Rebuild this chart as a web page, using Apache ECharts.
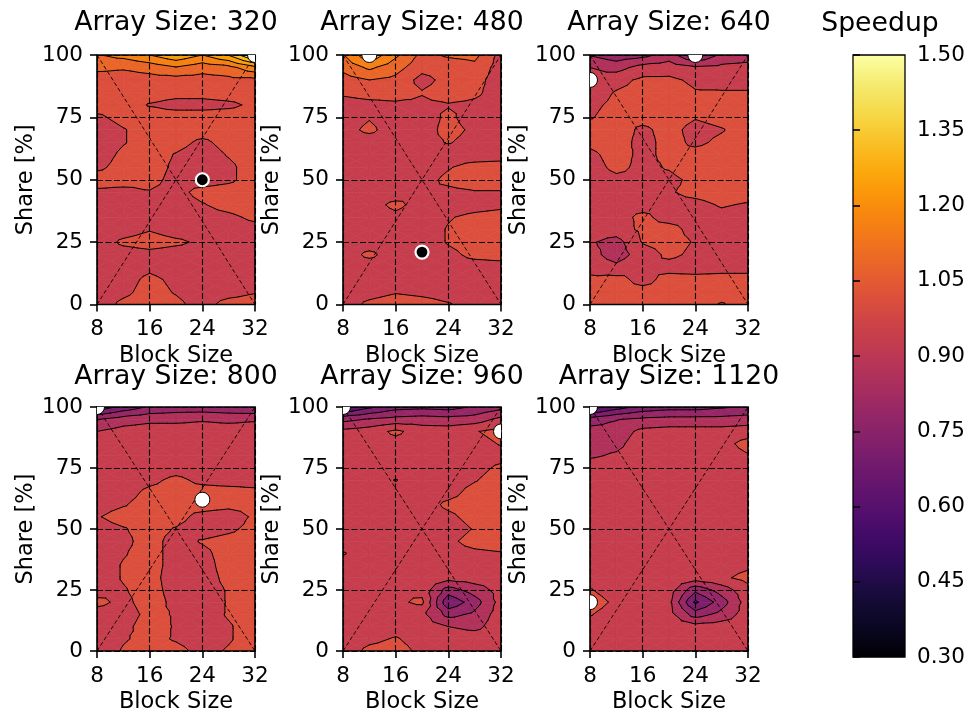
<!DOCTYPE html>
<html>
<head>
<meta charset="utf-8">
<script src="https://cdn.jsdelivr.net/npm/echarts@6/dist/echarts.min.js"></script>
<style>
html,body{margin:0;padding:0;background:#ffffff;}
#chart{width:974px;height:715px;}
</style>
</head>
<body>
<div id="chart"></div>
<script>
// ================= DATA =================
const blockSizes = [8, 12, 16, 20, 24, 28, 32];
// rows of every speedup table go from Share = 100 (first row) down to Share = 0 (last row)
const shares = [100, 95, 90, 85, 80, 75, 70, 65, 60, 55, 50, 45, 40, 35, 30, 25, 20, 15, 10, 5, 0];
const arraySizes = [320, 480, 640, 800, 960, 1120];

const speedup320 = [
  [1.12, 1.15, 1.20, 1.26, 1.20, 1.28, 1.45],
  [1.07, 1.06, 1.08, 1.12, 1.08, 1.10, 1.18],
  [1.01, 1.01, 1.02, 1.02, 1.02, 1.03, 1.03],
  [1.01, 1.01, 1.01, 1.00, 1.00, 1.01, 1.01],
  [1.01, 1.01, 0.97, 0.95, 0.95, 0.96, 0.99],
  [0.96, 1.00, 1.01, 1.01, 1.01, 1.01, 1.01],
  [0.93, 0.97, 1.01, 1.01, 1.01, 1.01, 1.01],
  [0.93, 0.97, 1.01, 1.00, 0.96, 1.00, 1.01],
  [0.94, 0.99, 1.01, 0.97, 0.94, 0.98, 1.01],
  [0.96, 1.00, 1.01, 0.96, 0.94, 0.96, 1.01],
  [1.01, 1.01, 1.00, 0.95, 0.94, 0.96, 1.01],
  [0.96, 0.95, 0.97, 0.95, 1.00, 1.01, 1.02],
  [0.94, 0.94, 0.94, 0.94, 0.97, 1.00, 1.02],
  [0.93, 0.94, 0.94, 0.94, 0.95, 0.96, 0.99],
  [0.93, 0.94, 0.97, 0.94, 0.94, 0.94, 0.95],
  [0.93, 0.99, 1.01, 0.99, 0.96, 0.94, 0.94],
  [0.93, 0.94, 0.95, 0.94, 0.94, 0.94, 0.94],
  [0.93, 0.94, 0.96, 0.94, 0.93, 0.93, 0.93],
  [0.93, 0.95, 0.99, 0.96, 0.93, 0.93, 0.93],
  [0.94, 0.96, 1.00, 0.97, 0.94, 0.95, 0.97],
  [0.94, 0.99, 1.01, 0.99, 0.95, 1.00, 1.01]
];
const speedup480 = [
  [1.12, 1.26, 1.14, 1.03, 1.06, 1.07, 0.95],
  [1.07, 1.14, 1.08, 1.00, 1.01, 1.03, 0.94],
  [1.02, 1.05, 1.03, 0.95, 1.00, 1.00, 0.94],
  [0.99, 1.01, 1.01, 0.98, 1.01, 0.99, 0.94],
  [0.94, 0.95, 0.96, 0.96, 0.97, 0.96, 0.94],
  [0.94, 0.97, 0.94, 0.94, 0.99, 0.94, 0.94],
  [0.95, 0.99, 0.94, 0.94, 1.00, 0.96, 0.94],
  [0.94, 0.94, 0.94, 0.95, 0.98, 0.95, 0.94],
  [0.94, 0.94, 0.94, 0.94, 0.94, 0.94, 0.94],
  [0.94, 0.94, 0.94, 0.94, 0.97, 1.00, 1.01],
  [0.94, 0.94, 0.94, 0.95, 0.99, 1.01, 1.01],
  [0.94, 0.94, 0.94, 0.97, 0.96, 0.97, 0.97],
  [0.94, 0.95, 0.99, 0.95, 0.94, 0.95, 0.96],
  [0.94, 0.94, 0.96, 0.94, 0.97, 0.99, 1.00],
  [0.94, 0.94, 0.94, 0.94, 0.98, 1.00, 1.01],
  [0.94, 0.94, 0.94, 0.94, 0.98, 1.00, 1.01],
  [0.94, 0.99, 0.94, 0.93, 0.96, 0.99, 1.00],
  [0.94, 0.94, 0.94, 0.94, 0.95, 0.95, 0.95],
  [0.94, 0.94, 0.94, 0.94, 0.94, 0.94, 0.94],
  [0.94, 0.95, 0.97, 0.96, 0.95, 0.94, 0.94],
  [0.94, 0.99, 1.01, 1.00, 0.98, 0.95, 0.97]
];
const speedup640 = [
  [0.82, 0.78, 0.80, 0.86, 0.74, 0.84, 0.86],
  [0.90, 0.87, 0.93, 0.94, 0.91, 0.92, 0.93],
  [0.92, 0.95, 0.99, 0.99, 0.96, 0.95, 0.95],
  [0.94, 0.98, 1.00, 1.01, 0.98, 0.98, 0.98],
  [0.96, 0.99, 1.00, 1.01, 1.00, 1.00, 1.00],
  [0.97, 1.00, 1.00, 1.01, 0.98, 1.00, 1.01],
  [1.00, 1.01, 0.96, 1.00, 0.95, 0.97, 1.01],
  [0.99, 1.01, 0.95, 1.00, 0.96, 0.99, 1.01],
  [0.96, 1.00, 0.96, 0.99, 1.00, 1.01, 1.01],
  [0.95, 0.99, 0.96, 0.98, 1.01, 1.01, 1.01],
  [0.94, 0.96, 0.96, 0.96, 0.99, 1.00, 1.01],
  [0.95, 0.96, 0.95, 0.97, 0.99, 1.00, 1.00],
  [0.97, 0.95, 0.95, 0.96, 0.96, 0.98, 0.97],
  [0.96, 0.95, 0.99, 0.95, 0.95, 0.96, 0.95],
  [0.94, 0.94, 0.99, 1.00, 0.95, 0.94, 0.96],
  [0.91, 0.87, 0.98, 1.00, 0.97, 0.94, 0.94],
  [0.93, 0.86, 0.94, 0.99, 0.96, 0.94, 0.95],
  [0.95, 0.92, 0.97, 0.95, 0.94, 0.95, 0.96],
  [0.99, 1.00, 0.95, 1.00, 1.00, 1.00, 0.99],
  [1.00, 1.00, 1.00, 1.00, 1.01, 1.00, 1.00],
  [1.00, 1.01, 1.00, 0.99, 1.00, 0.97, 1.00]
];
const speedup800 = [
  [0.62, 0.70, 0.76, 0.78, 0.78, 0.77, 0.75],
  [0.82, 0.86, 0.88, 0.88, 0.89, 0.88, 0.89],
  [0.90, 0.93, 0.94, 0.94, 0.94, 0.94, 0.94],
  [0.94, 0.94, 0.94, 0.94, 0.94, 0.94, 0.94],
  [0.94, 0.94, 0.94, 0.94, 0.94, 0.94, 0.94],
  [0.94, 0.94, 0.94, 0.95, 0.94, 0.94, 0.94],
  [0.94, 0.94, 0.96, 0.99, 0.96, 0.95, 0.95],
  [0.94, 0.95, 0.99, 1.00, 1.00, 1.00, 0.99],
  [0.95, 0.97, 1.00, 1.00, 1.01, 1.00, 1.00],
  [0.97, 1.00, 1.00, 1.00, 0.95, 0.93, 0.99],
  [0.95, 0.97, 1.00, 0.97, 0.94, 0.96, 1.00],
  [0.94, 0.96, 1.00, 0.95, 0.98, 1.00, 1.01],
  [0.94, 0.97, 1.00, 0.95, 0.96, 1.00, 1.01],
  [0.94, 0.98, 1.00, 0.95, 0.95, 1.00, 1.01],
  [0.94, 0.98, 1.00, 0.94, 0.95, 0.99, 1.01],
  [0.95, 0.97, 1.00, 0.95, 0.95, 0.98, 1.01],
  [0.99, 0.96, 1.00, 0.96, 0.94, 0.98, 1.00],
  [0.95, 0.95, 0.99, 0.97, 0.95, 0.98, 1.00],
  [0.94, 0.96, 1.00, 0.97, 0.95, 0.97, 1.00],
  [0.94, 0.97, 0.99, 0.97, 0.95, 0.97, 1.00],
  [0.94, 0.98, 1.00, 0.99, 0.96, 0.98, 1.00]
];
const speedup960 = [
  [0.58, 0.66, 0.72, 0.73, 0.72, 0.76, 0.80],
  [0.80, 0.83, 0.85, 0.86, 0.85, 0.86, 0.92],
  [0.92, 0.94, 0.99, 0.94, 0.94, 0.97, 1.00],
  [0.94, 0.94, 0.95, 0.94, 0.94, 0.95, 0.98],
  [0.94, 0.94, 0.94, 0.94, 0.94, 0.94, 0.95],
  [0.94, 0.94, 0.94, 0.94, 0.94, 0.95, 0.99],
  [0.94, 0.94, 0.978, 0.94, 0.94, 0.97, 1.01],
  [0.94, 0.94, 0.94, 0.94, 0.95, 1.00, 1.01],
  [0.94, 0.94, 0.94, 0.94, 0.99, 1.01, 1.01],
  [0.94, 0.94, 0.94, 0.94, 0.96, 1.00, 1.01],
  [0.94, 0.94, 0.94, 0.94, 0.94, 0.98, 1.01],
  [0.94, 0.94, 0.94, 0.94, 0.96, 1.00, 1.01],
  [0.98, 0.94, 0.94, 0.94, 0.95, 0.96, 0.97],
  [0.94, 0.94, 0.94, 0.94, 0.94, 0.94, 0.94],
  [0.94, 0.94, 0.94, 0.94, 0.93, 0.94, 0.94],
  [0.94, 0.94, 0.97, 0.95, 0.79, 0.86, 0.93],
  [0.94, 0.94, 0.96, 0.99, 0.69, 0.79, 0.93],
  [0.94, 0.94, 0.94, 0.92, 0.80, 0.84, 0.94],
  [0.94, 0.94, 0.95, 0.94, 0.90, 0.88, 0.94],
  [0.94, 0.96, 0.98, 0.95, 0.94, 0.94, 0.94],
  [0.94, 0.99, 1.00, 0.96, 0.94, 0.94, 0.94]
];
const speedup1120 = [
  [0.56, 0.64, 0.70, 0.72, 0.72, 0.74, 0.76],
  [0.78, 0.82, 0.84, 0.85, 0.85, 0.85, 0.86],
  [0.86, 0.86, 0.92, 0.93, 0.93, 0.93, 0.94],
  [0.87, 0.88, 0.94, 0.94, 0.94, 0.95, 1.00],
  [0.89, 0.91, 0.94, 0.94, 0.94, 0.94, 0.97],
  [0.94, 0.94, 0.94, 0.94, 0.94, 0.94, 0.94],
  [0.94, 0.94, 0.94, 0.94, 0.94, 0.94, 0.94],
  [0.94, 0.94, 0.94, 0.94, 0.94, 0.94, 0.94],
  [0.94, 0.94, 0.94, 0.94, 0.94, 0.94, 0.94],
  [0.94, 0.94, 0.94, 0.94, 0.94, 0.94, 0.94],
  [0.94, 0.94, 0.94, 0.94, 0.94, 0.94, 0.94],
  [0.94, 0.94, 0.94, 0.94, 0.94, 0.94, 0.94],
  [0.94, 0.94, 0.94, 0.94, 0.94, 0.94, 0.94],
  [0.94, 0.94, 0.94, 0.94, 0.94, 0.94, 0.96],
  [0.94, 0.94, 0.94, 0.94, 0.94, 0.96, 1.00],
  [0.98, 0.94, 0.94, 0.94, 0.77, 0.86, 0.95],
  [1.01, 0.96, 0.94, 0.92, 0.66, 0.79, 0.94],
  [0.98, 0.94, 0.94, 0.93, 0.79, 0.85, 0.94],
  [0.94, 0.94, 0.94, 0.94, 0.93, 0.94, 0.94],
  [0.94, 0.94, 0.94, 0.94, 0.94, 0.94, 0.94],
  [0.94, 0.94, 0.94, 0.94, 0.94, 0.94, 0.94]
];
const speedupTables = [speedup320, speedup480, speedup640, speedup800, speedup960, speedup1120];

// white markers (white fill, black edge) and dark markers (black fill, white edge)
const whiteMarkers320 = [[32, 100]];
const darkMarkers320 = [[24, 50]];
const whiteMarkers480 = [[12, 100]];
const darkMarkers480 = [[20, 21]];
const whiteMarkers640 = [[8, 90], [24, 100]];
const darkMarkers640 = [];
const whiteMarkers800 = [[8, 100], [24, 62]];
const darkMarkers800 = [];
const whiteMarkers960 = [[8, 100], [32, 90]];
const darkMarkers960 = [];
const whiteMarkers1120 = [[8, 100], [8, 20]];
const darkMarkers1120 = [];
const whiteMarkerSets = [whiteMarkers320, whiteMarkers480, whiteMarkers640, whiteMarkers800, whiteMarkers960, whiteMarkers1120];
const darkMarkerSets = [darkMarkers320, darkMarkers480, darkMarkers640, darkMarkers800, darkMarkers960, darkMarkers1120];

const diagonalUp = [[8, 0], [32, 100]];
const diagonalDown = [[8, 100], [32, 0]];

const contourLevels = [0.3, 0.375, 0.45, 0.525, 0.6, 0.675, 0.75, 0.825, 0.9, 0.975, 1.05, 1.125, 1.2, 1.275, 1.35, 1.425, 1.5];
const colorRange = [0.3, 1.5];

// ================= RENDERING =================
const FONT = 'DejaVu Sans';
const infernoStops = ['#000004','#0a0722','#160b39','#2c0b56','#420a68','#57106e','#6a176e','#801f6c','#932667','#a92e5e',
  '#bc3754','#cc4248','#dd513a','#e9642a','#f37819','#f98d0b','#fca50a','#f9be24','#f6d746','#f4ea6e','#fcffa4'];
const infernoRgb = infernoStops.map(h => [parseInt(h.slice(1,3),16), parseInt(h.slice(3,5),16), parseInt(h.slice(5,7),16)]);
function inferno(t) {
  t = Math.max(0, Math.min(1, t));
  const n = infernoRgb.length - 1;
  const f = t * n;
  const i = Math.min(n - 1, Math.floor(f));
  const u = f - i;
  const a = infernoRgb[i], b = infernoRgb[i + 1];
  return 'rgb(' + [0,1,2].map(j => Math.round(a[j] + (b[j] - a[j]) * u)).join(',') + ')';
}
const bandColors = contourLevels.slice(0, -1).map((l, k) =>
  inferno(((l + contourLevels[k + 1]) / 2 - colorRange[0]) / (colorRange[1] - colorRange[0])));

function clipPoly(poly, lv, keepAbove) {
  const out = [];
  for (let a = 0; a < poly.length; a++) {
    const P = poly[a], Q = poly[(a + 1) % poly.length];
    const pin = keepAbove ? P[2] >= lv : P[2] <= lv;
    const qin = keepAbove ? Q[2] >= lv : Q[2] <= lv;
    if (pin) out.push(P);
    if (pin !== qin) {
      const t = (lv - P[2]) / (Q[2] - P[2]);
      out.push([P[0] + t * (Q[0] - P[0]), P[1] + t * (Q[1] - P[1]), lv]);
    }
  }
  return out;
}

function buildContours(grid) {
  const cells = [];
  for (let r = 0; r < shares.length - 1; r++) {
    for (let c = 0; c < blockSizes.length - 1; c++) {
      const x0 = blockSizes[c], x1 = blockSizes[c + 1], yA = shares[r], yB = shares[r + 1];
      const a0 = [x0, yA, grid[r][c]], a1 = [x1, yA, grid[r][c + 1]];
      const b0 = [x0, yB, grid[r + 1][c]], b1 = [x1, yB, grid[r + 1][c + 1]];
      const ctr = [(x0 + x1) / 2, (yA + yB) / 2, (a0[2] + a1[2] + b0[2] + b1[2]) / 4];
      const tris = [[a0, a1, ctr], [a1, b1, ctr], [b1, b0, ctr], [b0, a0, ctr]];
      const polys = [], segs = [];
      tris.forEach(tri => {
        const zs = tri.map(p => p[2]);
        const lo = Math.min(...zs), hi = Math.max(...zs);
        for (let k = 0; k < contourLevels.length - 1; k++) {
          const la = contourLevels[k], lb = contourLevels[k + 1];
          if (hi < la || lo > lb) continue;
          let p = clipPoly(tri, la, true);
          if (p.length < 3) continue;
          p = clipPoly(p, lb, false);
          if (p.length < 3) continue;
          polys.push({ k: k, pts: p.map(q => [q[0], q[1]]) });
        }
        contourLevels.forEach(lv => {
          const s = [];
          for (let e = 0; e < 3; e++) {
            const P = tri[e], Q = tri[(e + 1) % 3];
            if ((P[2] >= lv) !== (Q[2] >= lv)) {
              const t = (lv - P[2]) / (Q[2] - P[2]);
              s.push([P[0] + t * (Q[0] - P[0]), P[1] + t * (Q[1] - P[1])]);
            }
          }
          if (s.length === 2) segs.push(s);
        });
      });
      cells.push({ center: [(x0 + x1) / 2, (yA + yB) / 2], polys: polys, segs: segs });
    }
  }
  return cells;
}

const panelLeft = [97, 343, 590, 97, 343, 590];
const panelTop = [55, 55, 55, 407, 407, 407];
const titleY = [23, 23, 23, 377, 377, 377];
const panelW = 158, panelH = 249.5;

const grids = [], xAxes = [], yAxes = [], series = [], graphics = [];
const tickLabel = { fontSize: 21.5, fontFamily: FONT, color: '#000' };
const nameStyle = { fontSize: 22.5, fontFamily: FONT, color: '#000' };

speedupTables.forEach((table, idx) => {
  grids.push({ left: panelLeft[idx], top: panelTop[idx], width: panelW, height: panelH,
    show: true, borderColor: '#000', borderWidth: 1.6, backgroundColor: 'transparent', z: 7 });
  xAxes.push({ gridIndex: idx, type: 'value', min: 8, max: 32, interval: 8, z: 6,
    name: 'Block Size', nameLocation: 'middle', nameGap: 40, nameTextStyle: nameStyle,
    axisLine: { show: false }, axisTick: { show: true, length: 7, lineStyle: { color: '#000', width: 1.6 } },
    axisLabel: Object.assign({ margin: 14 }, tickLabel),
    splitLine: { show: true, lineStyle: { color: '#000', width: 1.1, type: [6, 2.5] } } });
  yAxes.push({ gridIndex: idx, type: 'value', min: 0, max: 100, interval: 25, z: 6,
    name: 'Share [%]', nameLocation: 'middle', nameGap: 56, nameTextStyle: nameStyle,
    axisLine: { show: false }, axisTick: { show: true, length: 7, lineStyle: { color: '#000', width: 1.6 } },
    axisLabel: Object.assign({ margin: 14 }, tickLabel),
    splitLine: { show: true, lineStyle: { color: '#000', width: 1.1, type: [6, 2.5] } } });

  const cells = buildContours(table);
  series.push({ type: 'custom', xAxisIndex: idx, yAxisIndex: idx, clip: true, z: 2, silent: true,
    data: cells.map(c => c.center),
    renderItem: (params, api) => ({ type: 'group', children: cells[params.dataIndex].polys.map(pl => ({
      type: 'polygon', shape: { points: pl.pts.map(pt => api.coord(pt)) },
      style: { fill: bandColors[pl.k], stroke: bandColors[pl.k], lineWidth: 0.7 } })) }) });
  series.push({ type: 'custom', xAxisIndex: idx, yAxisIndex: idx, clip: true, z: 3, silent: true,
    data: cells.map(c => c.center),
    renderItem: (params, api) => ({ type: 'group', children: cells[params.dataIndex].segs.map(sg => {
      const p1 = api.coord(sg[0]), p2 = api.coord(sg[1]);
      return { type: 'line', shape: { x1: p1[0], y1: p1[1], x2: p2[0], y2: p2[1] },
        style: { stroke: '#000', lineWidth: 1.0, lineCap: 'round' } };
    }) }) });
  [diagonalUp, diagonalDown].forEach(d => series.push({ type: 'line', xAxisIndex: idx, yAxisIndex: idx,
    data: d, symbol: 'none', z: 4, silent: true,
    lineStyle: { color: '#000', width: 0.9, type: [4, 2.5] } }));
  series.push({ type: 'custom', xAxisIndex: idx, yAxisIndex: idx, clip: true, z: 8, silent: true,
    data: whiteMarkerSets[idx],
    renderItem: (params, api) => { const p = api.coord([api.value(0), api.value(1)]);
      return { type: 'circle', shape: { cx: p[0], cy: p[1], r: 7.5 }, style: { fill: '#fff', stroke: '#000', lineWidth: 1 } }; } });
  series.push({ type: 'custom', xAxisIndex: idx, yAxisIndex: idx, clip: true, z: 8, silent: true,
    data: darkMarkerSets[idx],
    renderItem: (params, api) => { const p = api.coord([api.value(0), api.value(1)]);
      return { type: 'circle', shape: { cx: p[0], cy: p[1], r: 6.5 }, style: { fill: '#000', stroke: '#fff', lineWidth: 2.2 } }; } });

  graphics.push({ type: 'text', x: panelLeft[idx] + panelW / 2, y: titleY[idx], z: 10,
    style: { text: 'Array Size: ' + arraySizes[idx], fontSize: 26.7, fontFamily: FONT, fill: '#000',
      align: 'center', verticalAlign: 'middle' } });
});

// colour bar
const cbIdx = 6;
grids.push({ left: 853, top: 55, width: 52, height: 602, show: true, borderColor: '#000', borderWidth: 1.3,
  backgroundColor: 'transparent', z: 7 });
xAxes.push({ gridIndex: cbIdx, type: 'value', min: 0, max: 1, show: false });
yAxes.push({ gridIndex: cbIdx, type: 'value', position: 'right', min: colorRange[0], max: colorRange[1], interval: 0.15, z: 6,
  axisLine: { show: false }, splitLine: { show: false },
  axisTick: { show: true, length: 7, lineStyle: { color: '#000', width: 1.6 } },
  axisLabel: Object.assign({ margin: 12, formatter: v => v.toFixed(2) }, tickLabel) });
series.push({ type: 'custom', xAxisIndex: cbIdx, yAxisIndex: cbIdx, z: 2, silent: true,
  data: [[0, colorRange[0]]],
  renderItem: (params, api) => {
    const p0 = api.coord([0, colorRange[0]]), p1 = api.coord([1, colorRange[1]]);
    return { type: 'rect', shape: { x: p0[0], y: p1[1], width: p1[0] - p0[0], height: p0[1] - p1[1] },
      style: { fill: { type: 'linear', x: 0, y: 1, x2: 0, y2: 0,
        colorStops: infernoStops.map((c, i) => ({ offset: i / (infernoStops.length - 1), color: c })) } } };
  } });
graphics.push({ type: 'text', x: 880, y: 24, z: 10,
  style: { text: 'Speedup', fontSize: 26.7, fontFamily: FONT, fill: '#000', align: 'center', verticalAlign: 'middle' } });

const chart = echarts.init(document.getElementById('chart'), null, { renderer: 'canvas' });
chart.setOption({
  animation: false,
  backgroundColor: '#ffffff',
  grid: grids, xAxis: xAxes, yAxis: yAxes, series: series, graphic: graphics
});
</script>
</body>
</html>
